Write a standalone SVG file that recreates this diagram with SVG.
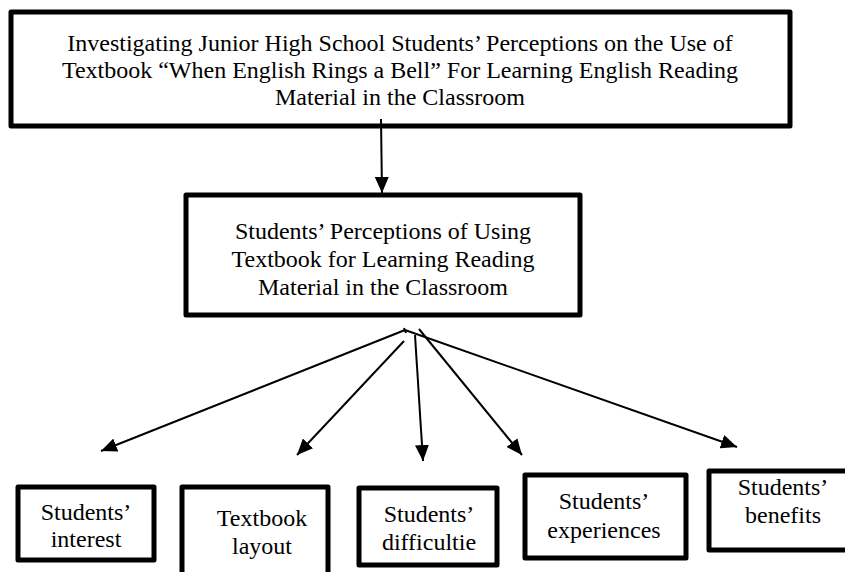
<svg xmlns="http://www.w3.org/2000/svg" width="845" height="572" viewBox="0 0 845 572">
<style>
.box{fill:#fff;stroke:#000;stroke-width:5;stroke-linejoin:round}
.t{font-family:"Liberation Serif","Times New Roman",serif;font-size:24px;fill:#000;text-anchor:middle}
.c{stroke:#000;stroke-width:2;fill:none}
</style>
<defs>
<marker id="ah" markerUnits="userSpaceOnUse" markerWidth="16" markerHeight="14" refX="16" refY="7" orient="auto">
<path d="M0,0 L16,7 L0,14 z" fill="#000"/>
</marker>
</defs>
<rect width="845" height="572" fill="#fff"/>
<g id="top">
<rect class="box" x="11" y="12" width="779" height="114"/>
<text class="t" x="400" y="51">Investigating Junior High School Students’ Perceptions on the Use of</text>
<text class="t" x="400" y="78">Textbook “When English Rings a Bell” For Learning English Reading</text>
<text class="t" x="400" y="105">Material in the Classroom</text>
</g>
<g id="middle">
<rect class="box" x="186" y="195" width="394" height="120"/>
<text class="t" x="383" y="239">Students’ Perceptions of Using</text>
<text class="t" x="383" y="267">Textbook for Learning Reading</text>
<text class="t" x="383" y="295">Material in the Classroom</text>
</g>
<g id="interest">
<rect class="box" x="18" y="487" width="136" height="73"/>
<text class="t" x="86" y="520">Students’</text>
<text class="t" x="86" y="547">interest</text>
</g>
<g id="layout">
<rect class="box" x="182" y="487" width="146" height="90"/>
<text class="t" x="262" y="526">Textbook</text>
<text class="t" x="262" y="554">layout</text>
</g>
<g id="difficulties">
<rect class="box" x="359" y="488" width="138" height="77"/>
<text class="t" x="429" y="522">Students’</text>
<text class="t" x="429" y="550">difficultie</text>
</g>
<g id="experiences">
<rect class="box" x="525" y="475" width="161" height="83"/>
<text class="t" x="604" y="509">Students’</text>
<text class="t" x="604" y="538">experiences</text>
</g>
<g id="benefits">
<rect class="box" x="709" y="471" width="145" height="79"/>
<text class="t" x="783" y="495">Students’</text>
<text class="t" x="783" y="523">benefits</text>
</g>
<g id="connectors">
<line class="c" x1="381" y1="119" x2="382" y2="193" marker-end="url(#ah)"/>
<line class="c" x1="404" y1="328" x2="406" y2="333"/>
<line class="c" x1="405" y1="330" x2="101" y2="451" marker-end="url(#ah)"/>
<line class="c" x1="405" y1="330" x2="737" y2="447" marker-end="url(#ah)"/>
<line class="c" x1="404" y1="341" x2="297" y2="455" marker-end="url(#ah)"/>
<line class="c" x1="415" y1="335" x2="423" y2="461" marker-end="url(#ah)"/>
<line class="c" x1="419" y1="329" x2="522" y2="455" marker-end="url(#ah)"/>
</g>
</svg>
